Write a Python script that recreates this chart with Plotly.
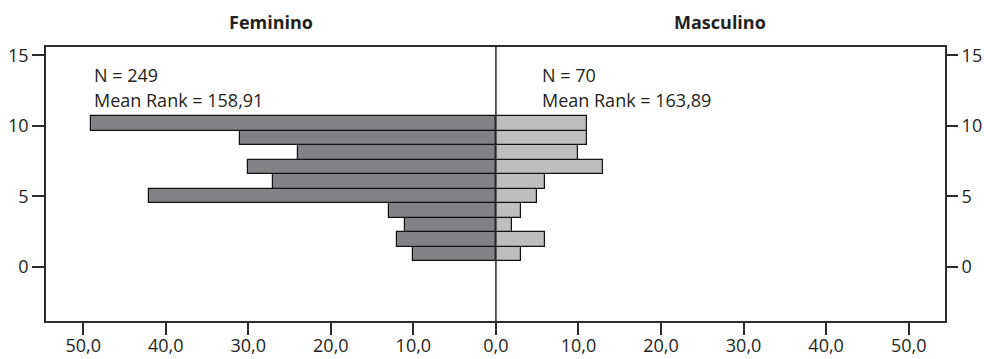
import plotly.graph_objects as go

bin_centers = [0.915, 1.945, 2.975, 4.005, 5.035, 6.065, 7.095, 8.125, 9.155, 10.185]
feminino = [10, 12, 11, 13, 42, 27, 30, 24, 31, 49]
masculino = [3, 6, 2, 3, 5, 6, 13, 10, 11, 11]
bin_width = 1.03
x_ticks = [-50, -40, -30, -20, -10, 0, 10, 20, 30, 40, 50]
x_ticktext = ["50,0", "40,0", "30,0", "20,0", "10,0", "0,0", "10,0", "20,0", "30,0", "40,0", "50,0"]
y_ticks = [0, 5, 10, 15]
groups = ["Feminino", "Masculino"]
n_values = [249, 70]
mean_ranks = ["158,91", "163,89"]

FONT = "Open Sans"
FS = 18
TXT = "#231f20"
AX = "#2b2b2b"

fig = go.Figure()
fig.add_trace(go.Bar(
    y=bin_centers, x=[-v for v in feminino], orientation="h", width=bin_width,
    marker=dict(color="#808285", line=dict(color="#111111", width=1.2)),
    name=groups[0], showlegend=False, hoverinfo="skip"))
fig.add_trace(go.Bar(
    y=bin_centers, x=masculino, orientation="h", width=bin_width,
    marker=dict(color="#bcbec0", line=dict(color="#111111", width=1.2)),
    name=groups[1], showlegend=False, hoverinfo="skip"))
fig.add_trace(go.Scatter(x=[0], y=[0], yaxis="y2", mode="markers",
                         marker=dict(opacity=0), showlegend=False, hoverinfo="skip"))

yr = [-3.83, 15.6]
fig.update_layout(
    width=984, height=359,
    margin=dict(l=46, r=39, t=47, b=38, autoexpand=False),
    paper_bgcolor="white", plot_bgcolor="white",
    barmode="overlay", bargap=0,
    font=dict(family=FONT, size=FS, color=TXT),
    xaxis=dict(range=[-54.5, 54.4], tickvals=x_ticks, ticktext=x_ticktext,
               showgrid=False, zeroline=False, showline=True, mirror=True,
               linecolor=AX, linewidth=1.5, ticks="outside", ticklen=12,
               tickcolor=AX, tickwidth=1.5, tickfont=dict(size=FS, color=TXT),
               ticklabelstandoff=-4, automargin=False),
    yaxis=dict(range=yr, tickvals=y_ticks, showgrid=False, zeroline=False,
               showline=True, mirror=True, linecolor=AX, linewidth=1.5,
               ticks="outside", ticklen=12, tickcolor=AX, tickwidth=1.5,
               tickfont=dict(size=FS, color=TXT), automargin=False),
    yaxis2=dict(range=yr, tickvals=y_ticks, overlaying="y", side="right",
                showgrid=False, zeroline=False, showline=False,
                ticks="outside", ticklen=12, tickcolor=AX, tickwidth=1.5,
                tickfont=dict(size=FS, color=TXT), automargin=False),
)

fig.add_shape(type="line", xref="x", yref="paper", x0=0, x1=0, y0=0, y1=1,
              line=dict(color=AX, width=1.5))

fig.add_annotation(x=-27.25, y=1.0, xref="x", yref="paper", yshift=25,
                   text="<b>" + groups[0] + "</b>", showarrow=False,
                   font=dict(size=FS, color=TXT), xanchor="center", yanchor="middle")
fig.add_annotation(x=27.2, y=1.0, xref="x", yref="paper", yshift=25,
                   text="<b>" + groups[1] + "</b>", showarrow=False,
                   font=dict(size=FS, color=TXT), xanchor="center", yanchor="middle")

for xpos, n, mr in [(-48.9, n_values[0], mean_ranks[0]), (5.3, n_values[1], mean_ranks[1])]:
    fig.add_annotation(x=xpos, y=13.6, xref="x", yref="y", text=f"N = {n}",
                       showarrow=False, xanchor="left", yanchor="middle",
                       font=dict(size=FS, color=TXT))
    fig.add_annotation(x=xpos, y=11.82, xref="x", yref="y", text=f"Mean Rank = {mr}",
                       showarrow=False, xanchor="left", yanchor="middle",
                       font=dict(size=FS, color=TXT))

fig.write_html("out.html", config={"displayModeBar": False},
               post_script="document.body.style.margin='0';document.body.style.overflow='hidden';")
